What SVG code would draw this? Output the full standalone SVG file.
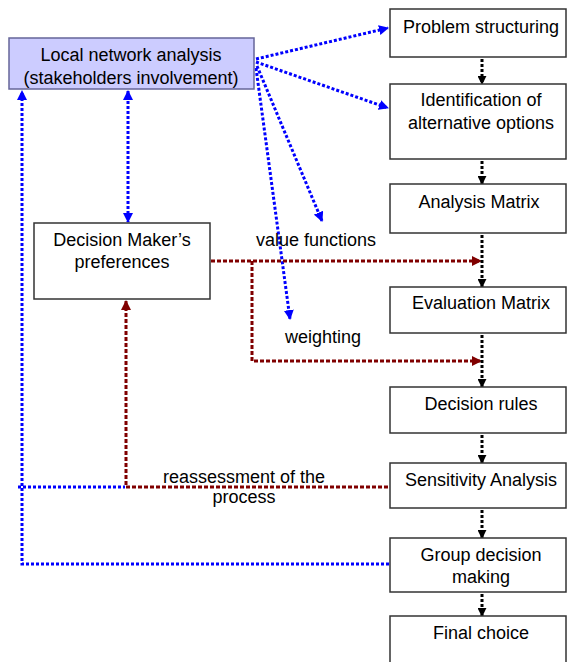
<svg xmlns="http://www.w3.org/2000/svg" width="568" height="662" viewBox="0 0 568 662">
<style>
  .box { fill: #ffffff; stroke: #333333; stroke-width: 1.5; }
  .lbox { fill: #ccccff; stroke: #666699; stroke-width: 1.5; }
  text { font-family: "Liberation Sans", Arial, sans-serif; font-size: 18px; fill: #000000; text-anchor: middle; }
  .blue { fill: none; stroke: #0000ff; stroke-width: 3; stroke-dasharray: 3 2; }
  .red { fill: none; stroke: #800000; stroke-width: 3; stroke-dasharray: 4 2; }
  .blk { fill: none; stroke: #000000; stroke-width: 3; stroke-dasharray: 3 2; }
</style>
<defs>
  <marker id="ab" viewBox="0 0 10 10" refX="9" refY="5" markerWidth="10" markerHeight="10" markerUnits="userSpaceOnUse" orient="auto-start-reverse">
    <path d="M0,0 L10,5 L0,10 z" fill="#0000ff"/>
  </marker>
  <marker id="ar" viewBox="0 0 10 10" refX="9" refY="5" markerWidth="10" markerHeight="10" markerUnits="userSpaceOnUse" orient="auto-start-reverse">
    <path d="M0,0 L10,5 L0,10 z" fill="#800000"/>
  </marker>
  <marker id="ak" viewBox="0 0 10 10" refX="9" refY="5" markerWidth="9" markerHeight="9" markerUnits="userSpaceOnUse" orient="auto">
    <path d="M0,0 L10,5 L0,10 z" fill="#000000"/>
  </marker>
</defs>

<g id="connectors">
  <!-- blue -->
  <path class="blue" d="M256,59 L388,28" marker-end="url(#ab)"/>
  <path class="blue" d="M256,62 L388,108" marker-end="url(#ab)"/>
  <path class="blue" d="M257,66 L322,221" marker-end="url(#ab)"/>
  <path class="blue" d="M256,68 L290,319" marker-end="url(#ab)"/>
  <path class="blue" d="M128,91 L128,222" marker-start="url(#ab)" marker-end="url(#ab)"/>
  <path class="blue" d="M389,564 H22 V91" marker-end="url(#ab)"/>
  <path class="blue" d="M18,487 H125"/>
  <!-- red -->
  <path class="red" d="M388,487 H126 V301" marker-end="url(#ar)"/>
  <path class="red" d="M211,261 H481" marker-end="url(#ar)"/>
  <path class="red" d="M252,261 V361 H481" marker-end="url(#ar)"/>
  <!-- black -->
  <path class="blk" d="M482,59 V84" marker-end="url(#ak)"/>
  <path class="blk" d="M482,161 V184" marker-end="url(#ak)"/>
  <path class="blk" d="M482,235 V287" marker-end="url(#ak)"/>
  <path class="blk" d="M482,335 V387" marker-end="url(#ak)"/>
  <path class="blk" d="M482,435 V463" marker-end="url(#ak)"/>
  <path class="blk" d="M482,510 V538" marker-end="url(#ak)"/>
  <path class="blk" d="M482,594 V616" marker-end="url(#ak)"/>
</g>

<g id="local-network">
  <rect class="lbox" x="9" y="38" width="245" height="51"/>
  <text x="131" y="61">Local network analysis</text>
  <text x="131" y="84">(stakeholders involvement)</text>
</g>
<g id="dm-preferences">
  <rect class="box" x="34" y="223" width="176" height="76"/>
  <text x="122" y="246">Decision Maker’s</text>
  <text x="122" y="268">preferences</text>
</g>
<g id="problem-structuring">
  <rect class="box" x="390" y="9" width="176" height="48"/>
  <text x="481" y="33">Problem structuring</text>
</g>
<g id="identification">
  <rect class="box" x="390" y="84" width="176" height="75"/>
  <text x="481" y="106">Identification of</text>
  <text x="481" y="129">alternative options</text>
</g>
<g id="analysis-matrix">
  <rect class="box" x="390" y="184" width="176" height="49"/>
  <text x="479" y="208">Analysis Matrix</text>
</g>
<g id="evaluation-matrix">
  <rect class="box" x="390" y="287" width="176" height="46"/>
  <text x="481" y="309">Evaluation Matrix</text>
</g>
<g id="decision-rules">
  <rect class="box" x="390" y="387" width="176" height="46"/>
  <text x="481" y="410">Decision rules</text>
</g>
<g id="sensitivity-analysis">
  <rect class="box" x="390" y="463" width="176" height="45"/>
  <text x="481" y="486">Sensitivity Analysis</text>
</g>
<g id="group-decision">
  <rect class="box" x="390" y="538" width="176" height="54"/>
  <text x="481" y="561">Group decision</text>
  <text x="481" y="583">making</text>
</g>
<g id="final-choice">
  <rect class="box" x="390" y="616" width="176" height="60"/>
  <text x="481" y="639">Final choice</text>
</g>

<g id="labels">
  <text x="316" y="246">value functions</text>
  <text x="323" y="343">weighting</text>
  <text x="244" y="483">reassessment of the</text>
  <text x="244" y="503">process</text>
</g>
</svg>
